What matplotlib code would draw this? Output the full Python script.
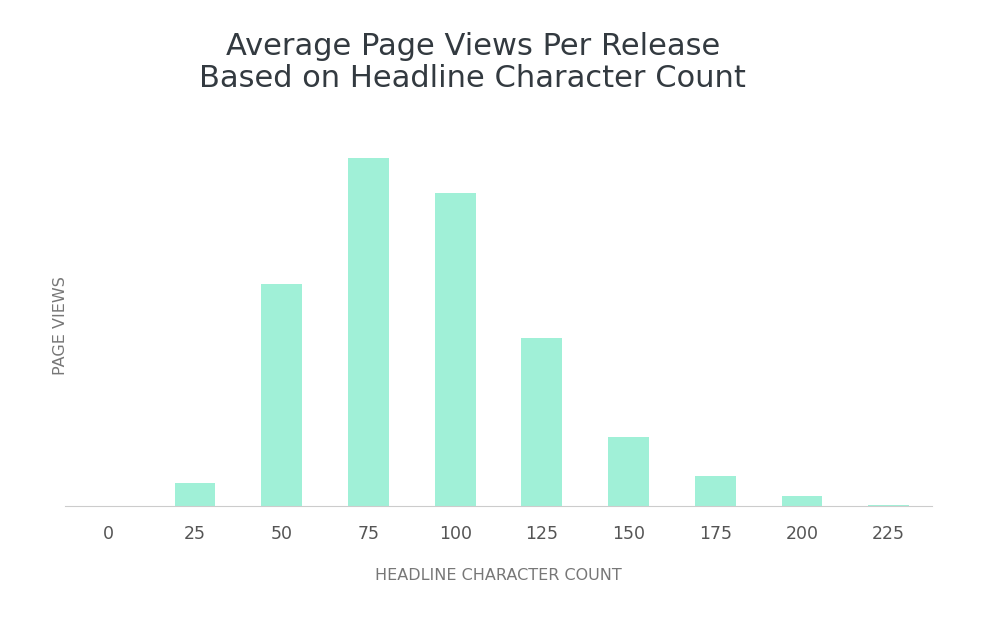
import matplotlib.pyplot as plt

# data
char_counts = ['0', '25', '50', '75', '100', '125', '150', '175', '200', '225']
page_views = [0, 23, 222, 348, 313, 168, 69, 30, 10, 1]

fig = plt.figure(figsize=(9.81, 6.27), dpi=100)
ax = fig.add_axes([65/981, 1-506/627, 867/981, 360/627])

pos = list(range(len(char_counts)))
ax.bar(pos, page_views, width=0.47, color='#a0f0d7', edgecolor='none')

ax.set_xlim(-0.5, 9.5)
ax.set_ylim(0, 360)
ax.set_xticks(pos)
ax.set_xticklabels(char_counts, fontsize=12.5, color='#555555', family='DejaVu Sans')
ax.tick_params(axis='x', length=0, pad=14)
ax.set_yticks([])
for s in ['top', 'right', 'left']:
    ax.spines[s].set_visible(False)
ax.spines['bottom'].set_color('#cccccc')

ax.set_xlabel('HEADLINE CHARACTER COUNT', fontsize=11.5, color='#777777', family='DejaVu Sans', labelpad=18)
ax.set_ylabel('PAGE VIEWS', fontsize=11.5, color='#777777', family='DejaVu Sans', labelpad=-2)

fig.text(0.482, 0.9, 'Average Page Views Per Release\nBased on Headline Character Count',
         ha='center', va='center', fontsize=22, color='#333a40', family='DejaVu Sans', linespacing=1.15)

fig.savefig('out.png', dpi=100)
